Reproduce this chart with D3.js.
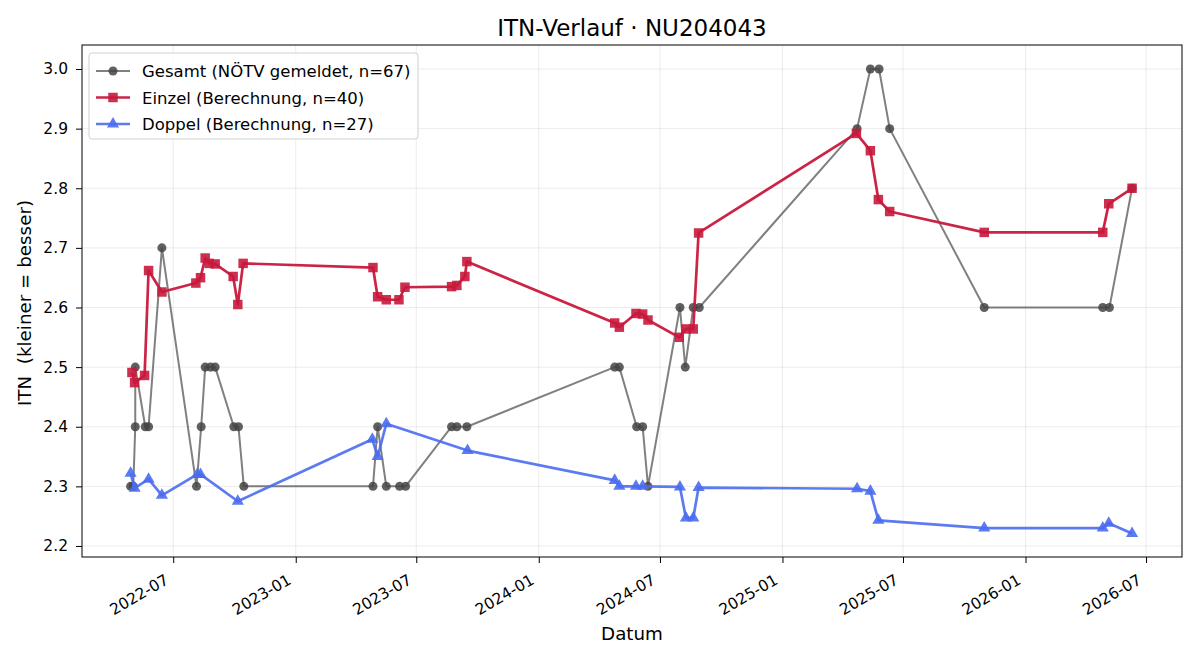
<!DOCTYPE html>
<html>
<head>
<meta charset="utf-8">
<script src="https://cdn.jsdelivr.net/npm/d3@7"></script>
<style>
  body { margin: 0; background: #fff; }
  text { font-family: "DejaVu Sans", sans-serif; white-space: pre; }
</style>
</head>
<body>
<div id="chart"></div>
<script>
// Gesamt (NÖTV gemeldet)
let gesamtDates = ["2022-04-28","2022-05-02","2022-05-05","2022-05-05","2022-05-20","2022-05-25","2022-06-14",
  "2022-08-05","2022-08-12","2022-08-18","2022-08-26","2022-09-02","2022-09-30","2022-10-07","2022-10-15",
  "2023-04-27","2023-05-04","2023-05-17","2023-06-06","2023-06-15","2023-08-23","2023-08-31","2023-09-15",
  "2024-04-24","2024-05-01","2024-05-27","2024-06-05","2024-06-13","2024-07-31","2024-08-08","2024-08-20","2024-08-29",
  "2025-04-23","2025-05-13","2025-05-26","2025-06-11","2025-10-31","2026-04-27","2026-05-07","2026-06-10"];
let gesamtValues = [2.3,2.3,2.4,2.5,2.4,2.4,2.7,
  2.3,2.4,2.5,2.5,2.5,2.4,2.4,2.3,
  2.3,2.4,2.3,2.3,2.3,2.4,2.4,2.4,
  2.5,2.5,2.4,2.4,2.3,2.6,2.5,2.6,2.6,
  2.9,3.0,3.0,2.9,2.6,2.6,2.6,2.8];

// Einzel (Berechnung)
let einzelDates = ["2022-04-30","2022-05-04","2022-05-19","2022-05-25","2022-06-14",
  "2022-08-04","2022-08-11","2022-08-18","2022-08-24","2022-09-02","2022-09-29","2022-10-06","2022-10-14",
  "2023-04-27","2023-05-04","2023-05-17","2023-06-05","2023-06-14","2023-08-23","2023-08-31","2023-09-12","2023-09-15",
  "2024-04-24","2024-05-01","2024-05-26","2024-06-05","2024-06-13","2024-07-30","2024-08-09","2024-08-20","2024-08-28",
  "2025-04-22","2025-05-13","2025-05-25","2025-06-11","2025-10-31","2026-04-27","2026-05-06","2026-06-10"];
let einzelValues = [2.491,2.474,2.486,2.662,2.626,
  2.641,2.650,2.683,2.674,2.673,2.652,2.605,2.674,
  2.667,2.618,2.613,2.613,2.634,2.635,2.637,2.652,2.677,
  2.574,2.567,2.590,2.589,2.579,2.550,2.564,2.564,2.725,
  2.892,2.863,2.781,2.761,2.726,2.726,2.774,2.800];

// Doppel (Berechnung)
let doppelDates = ["2022-04-28","2022-05-04","2022-05-25","2022-06-14","2022-08-06","2022-08-11","2022-10-06",
  "2023-04-26","2023-05-04","2023-05-17","2023-09-16",
  "2024-04-24","2024-05-01","2024-05-26","2024-06-05","2024-07-31","2024-08-09","2024-08-20","2024-08-28",
  "2025-04-23","2025-05-13","2025-05-25","2025-10-31","2026-04-27","2026-05-06","2026-06-10"];
let doppelValues = [2.322,2.297,2.312,2.285,2.320,2.320,2.275,
  2.379,2.350,2.405,2.360,
  2.310,2.300,2.300,2.300,2.299,2.247,2.247,2.298,
  2.296,2.292,2.243,2.230,2.230,2.238,2.221];

let yTicks = [2.2, 2.3, 2.4, 2.5, 2.6, 2.7, 2.8, 2.9, 3.0];
let xTicks = ["2022-07-01","2023-01-01","2023-07-01","2024-01-01","2024-07-01","2025-01-01","2025-07-01","2026-01-01","2026-07-01"];

let parse = d3.timeParse("%Y-%m-%d");
function zip(dates, values) {
  return dates.map((d, i) => ({ date: parse(d), value: values[i] }));
}

let series = [
  { name: "Gesamt (NÖTV gemeldet, n=67)", data: zip(gesamtDates, gesamtValues), line: "#555", lineOp: 0.75, lw: 2,
    fill: "#444", fillOp: 0.85, shape: d3.symbolCircle, size: 64 },
  { name: "Einzel (Berechnung, n=40)", data: zip(einzelDates, einzelValues), line: "#c8183c", lineOp: 0.95, lw: 2.7,
    fill: "#c8183c", fillOp: 0.9, shape: d3.symbolSquare, size: 90 },
  { name: "Doppel (Berechnung, n=27)", data: zip(doppelDates, doppelValues), line: "#4a6cf0", lineOp: 0.9, lw: 2.7,
    fill: "#4a6cf0", fillOp: 0.9, shape: d3.symbolTriangle, size: 64 }
];

let width = 1200, height = 660;
let mLeft = 82, mRight = 1182, mTop = 45, mBottom = 557;

let svg = d3.select("#chart").append("svg")
  .attr("width", width).attr("height", height);

let xScale = d3.scaleTime()
  .domain([parse("2022-02-14"), parse("2026-08-24")])
  .range([mLeft, mRight]);
let yScale = d3.scaleLinear()
  .domain([2.1815, 3.0403])
  .range([mBottom, mTop]);

// grid
let grid = svg.append("g");
grid.selectAll("line.gx").data(xTicks).enter().append("line")
  .attr("x1", d => xScale(parse(d))).attr("x2", d => xScale(parse(d)))
  .attr("y1", mTop).attr("y2", mBottom)
  .attr("stroke", "#b0b0b0").attr("stroke-opacity", 0.3).attr("stroke-width", 0.8);
grid.selectAll("line.gy").data(yTicks).enter().append("line")
  .attr("y1", d => yScale(d)).attr("y2", d => yScale(d))
  .attr("x1", mLeft).attr("x2", mRight)
  .attr("stroke", "#b0b0b0").attr("stroke-opacity", 0.3).attr("stroke-width", 0.8);

// lines and markers
let line = d3.line().x(d => xScale(d.date)).y(d => yScale(d.value));
series.forEach(s => {
  svg.append("path")
    .datum(s.data)
    .attr("d", line)
    .attr("fill", "none")
    .attr("stroke", s.line)
    .attr("stroke-opacity", s.lineOp)
    .attr("stroke-width", s.lw)
    .attr("stroke-linejoin", "round");
  svg.append("g").selectAll("path")
    .data(s.data).enter().append("path")
    .attr("d", d3.symbol().type(s.shape).size(s.size))
    .attr("transform", d => `translate(${xScale(d.date)},${yScale(d.value)})`)
    .attr("fill", s.fill)
    .attr("fill-opacity", s.fillOp);
});

// axes
let xAxis = svg.append("g")
  .attr("transform", `translate(0,${mBottom})`)
  .call(d3.axisBottom(xScale).tickValues(xTicks.map(parse)).tickFormat(d3.timeFormat("%Y-%m")).tickSizeOuter(0).tickSize(6));
xAxis.select(".domain").remove();
xAxis.selectAll("text")
  .attr("font-size", 15.5)
  .attr("font-family", "DejaVu Sans")
  .attr("fill", "#000")
  .attr("text-anchor", "end")
  .attr("x", 0).attr("y", 0).attr("dy", 0)
  .attr("transform", "translate(-4,26) rotate(-30)");

let yAxis = svg.append("g")
  .attr("transform", `translate(${mLeft},0)`)
  .call(d3.axisLeft(yScale).tickValues(yTicks).tickFormat(d3.format(".1f")).tickSizeOuter(0).tickSize(6).tickPadding(8));
yAxis.select(".domain").remove();
yAxis.selectAll("text").attr("font-size", 15.5).attr("font-family", "DejaVu Sans").attr("fill", "#000");

svg.append("rect")
  .attr("x", mLeft).attr("y", mTop)
  .attr("width", mRight - mLeft).attr("height", mBottom - mTop)
  .attr("fill", "none").attr("stroke", "#000").attr("stroke-width", 1);

// labels
svg.append("text")
  .attr("x", (mLeft + mRight) / 2).attr("y", 36)
  .attr("text-anchor", "middle").attr("font-size", 23)
  .text("ITN-Verlauf · NU204043");
svg.append("text")
  .attr("x", (mLeft + mRight) / 2).attr("y", 640)
  .attr("text-anchor", "middle").attr("font-size", 18.3)
  .text("Datum");
svg.append("text")
  .attr("transform", `translate(31,${(mTop + mBottom) / 2 + 2}) rotate(-90)`)
  .attr("text-anchor", "middle").attr("font-size", 18.3)
  .text("ITN  (kleiner = besser)");

// legend
let legend = svg.append("g").attr("transform", "translate(89,53)");
legend.append("rect")
  .attr("width", 329).attr("height", 86).attr("rx", 3)
  .attr("fill", "#fff").attr("fill-opacity", 0.8)
  .attr("stroke", "#d0d0d0");
series.forEach((s, i) => {
  let yy = 18 + i * 26.5;
  legend.append("line")
    .attr("x1", 7).attr("x2", 41).attr("y1", yy).attr("y2", yy)
    .attr("stroke", s.line).attr("stroke-opacity", s.lineOp).attr("stroke-width", s.lw);
  legend.append("path")
    .attr("d", d3.symbol().type(s.shape).size(s.size))
    .attr("transform", `translate(24,${yy})`)
    .attr("fill", s.fill).attr("fill-opacity", s.fillOp);
  legend.append("text")
    .attr("x", 53).attr("y", yy + 6)
    .attr("font-size", 16.5)
    .text(s.name);
});
</script>
</body>
</html>
